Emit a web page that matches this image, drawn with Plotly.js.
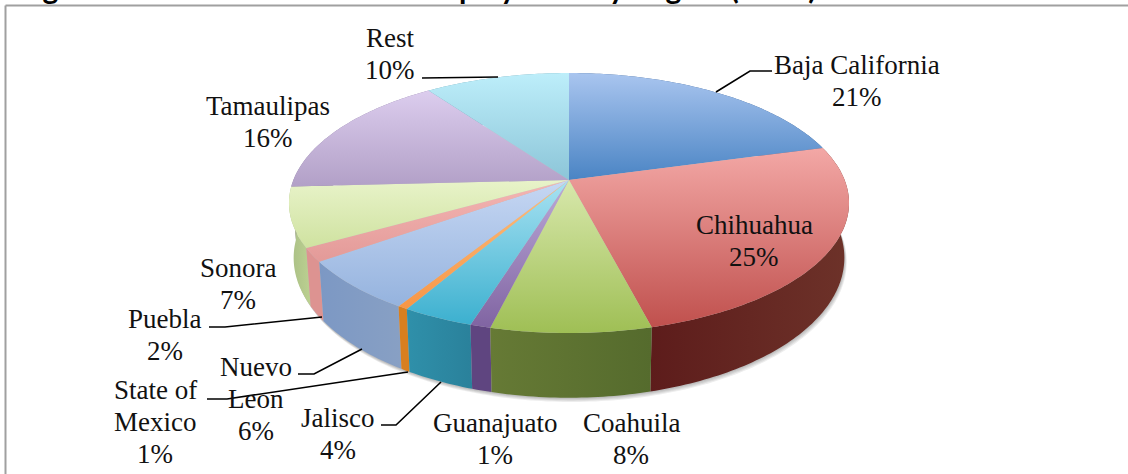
<!DOCTYPE html>
<html><head><meta charset="utf-8">
<script src="https://cdn.plot.ly/plotly-3.0.1.min.js"></script>
<style>html,body{margin:0;padding:0;background:#fff;overflow:hidden}#c{width:1128px;height:474px}</style>
</head><body><div id="c"></div>
<script>
// Data
const categories = ["Baja California","Chihuahua","Coahuila","Guanajuato","Jalisco","State of Mexico","Nuevo Leon","Puebla","Sonora","Tamaulipas","Rest"];
const shares = [20.7,25.3,7.8,1.0,3.5,0.5,6.3,1.7,7.4,15.9,9.9];
const percentLabels = [21,25,8,1,4,1,6,2,7,16,10];
const titleText = "Figure 10: Automotive Sector Employment by Region (2006)";

// Styles
const topColors = [["#a9c5ef","#4a84c4"],["#f3a8a6","#c0504d"],["#d8e8ac","#9fbf55"],["#bcaad8","#8064a2"],["#a8e2f2","#3cb0cf"],["#fbbf80","#f79646"],["#c6d7f3","#95b3de"],["#f4b6b4","#e39a98"],["#e8f3c9","#cfe2a0"],["#dccdee","#b2a0c7"],["#bdeefa","#8cc5d8"]];
const wallColors = [["#3a5f8f","#3a5f8f"],["#5d1c1b","#6d3229"],["#667a35","#556b2d"],["#5f4580","#5f4580"],["#2f90aa","#2a819b"],["#d87f1f","#d87f1f"],["#7c98c4","#88a0c4"],["#dd9391","#dd9391"],["#a9be85","#bcd191"],["#8a7aa0","#8a7aa0"],["#6aa0b0","#6aa0b0"]];
const topDisc = {cx:569, cy:180, a:275.6, b:125.9, k:0.177};
const baseDisc = {cx:569, cy:233, a:271, b:135.6, k:0.177};
const labelFont = {family:"Liberation Serif", size:27, color:"#111"};
const labelSpots = [[857,65],[754,225],[631,423],[495,423],[338,418],[155,390],[256,367],[165,319],[238,268],[268,106],[390,38]];
const labelLines = [[categories[0]],[categories[1]],[categories[2]],[categories[3]],[categories[4]],["State of","Mexico"],["Nuevo","Leon"],[categories[7]],[categories[8]],[categories[9]],[categories[10]]];
const lineGap = 32;
const leaders = [[[772,71],[750,71],[716,92]],[[209,327],[225,327],[322,317]],[[298,374],[314,374],[362,349]],[[207,399],[227,399],[408,372]],[[381,425],[396,425],[441,382]],[[422,78],[498,77]]];

// Projection of a pie angle onto a tilted disc
function project(d,t){const u=Math.sin(t),v=-Math.cos(t),w=1-d.k*v;return [d.cx+d.a*u/w,d.cy+d.b*v/w];}
function arc(d,t0,t1){const n=Math.max(3,Math.ceil((t1-t0)*60)),p=[];for(let i=0;i<=n;i++)p.push(project(d,t0+(t1-t0)*i/n));return p;}

const total = shares.reduce((s,v)=>s+v,0);
let acc=0;
const slices = shares.map((v,i)=>{const t0=acc/total*2*Math.PI;acc+=v;return {i,t0,t1:acc/total*2*Math.PI};});

function poly(pts,grad,type,name){
  const xs=pts.map(p=>p[0]),ys=pts.map(p=>p[1]);
  const vals=type==='vertical'?ys:xs;
  return {type:'scatter',mode:'none',x:xs.concat(xs[0]),y:ys.concat(ys[0]),fill:'toself',name,
    hoverinfo:'skip',showlegend:false,fillcolor:grad[0],
    fillgradient:{type,colorscale:[[0,grad[0]],[1,grad[1]]],start:Math.min(...vals),stop:Math.max(...vals)}};
}

const traces=[];
// soft shadow under the base
[6,4.5,3,1.5].forEach(o=>{
  const p=arc({...baseDisc,cx:baseDisc.cx+o*0.4,cy:baseDisc.cy+o*0.7},0,2*Math.PI);
  traces.push({type:'scatter',mode:'none',x:p.map(q=>q[0]),y:p.map(q=>q[1]),fill:'toself',fillcolor:'rgba(0,0,0,0.07)',hoverinfo:'skip',showlegend:false});
});
// walls, back to front
slices.slice().sort((a,b)=>Math.cos((a.t0+a.t1)/2)>Math.cos((b.t0+b.t1)/2)?-1:1).forEach(s=>{
  const pts=arc(topDisc,s.t0,s.t1).concat(arc(baseDisc,s.t0,s.t1).reverse());
  traces.push(poly(pts,wallColors[s.i],'horizontal',categories[s.i]+' side'));
});
// top surfaces
slices.forEach(s=>{
  const pts=[[topDisc.cx,topDisc.cy]].concat(arc(topDisc,s.t0,s.t1));
  traces.push(poly(pts,topColors[s.i],'vertical',categories[s.i]));
});

const annotations=[];
categories.forEach((c,i)=>{
  labelLines[i].concat(percentLabels[i]+"%").forEach((text,j)=>annotations.push({
    x:labelSpots[i][0],y:labelSpots[i][1]+j*lineGap,xref:'x',yref:'y',showarrow:false,
    text,font:labelFont,align:'center',xanchor:'center',yanchor:'middle'
  }));
});
annotations.push({x:0,xref:'paper',xanchor:'left',xshift:16,y:1,yref:'paper',yanchor:'bottom',yshift:-7,showarrow:false,
  text:"<b>"+titleText+"</b>",font:{family:"Lato",size:30,color:"#000"},align:'left'});

const shapes=[
  {type:'line',xref:'x',yref:'y',x0:5.5,y0:5.5,x1:1128,y1:5.5,line:{color:"#a0a0a0",width:2}},
  {type:'line',xref:'x',yref:'y',x0:5.5,y0:5.5,x1:5.5,y1:474,line:{color:"#a0a0a0",width:2}}
].concat(leaders.map(l=>({type:'path',xref:'x',yref:'y',path:'M'+l.map(p=>p.join(',')).join('L'),line:{color:"#000",width:1.6}})));

Plotly.newPlot('c',traces,{
  width:1128,height:474,margin:{l:0,r:0,t:0,b:0},paper_bgcolor:'#fff',plot_bgcolor:'#fff',showlegend:false,
  xaxis:{range:[0,1128],visible:false,fixedrange:true},
  yaxis:{range:[474,0],visible:false,fixedrange:true},
  annotations,shapes
},{displayModeBar:false,staticPlot:true});
</script></body></html>
